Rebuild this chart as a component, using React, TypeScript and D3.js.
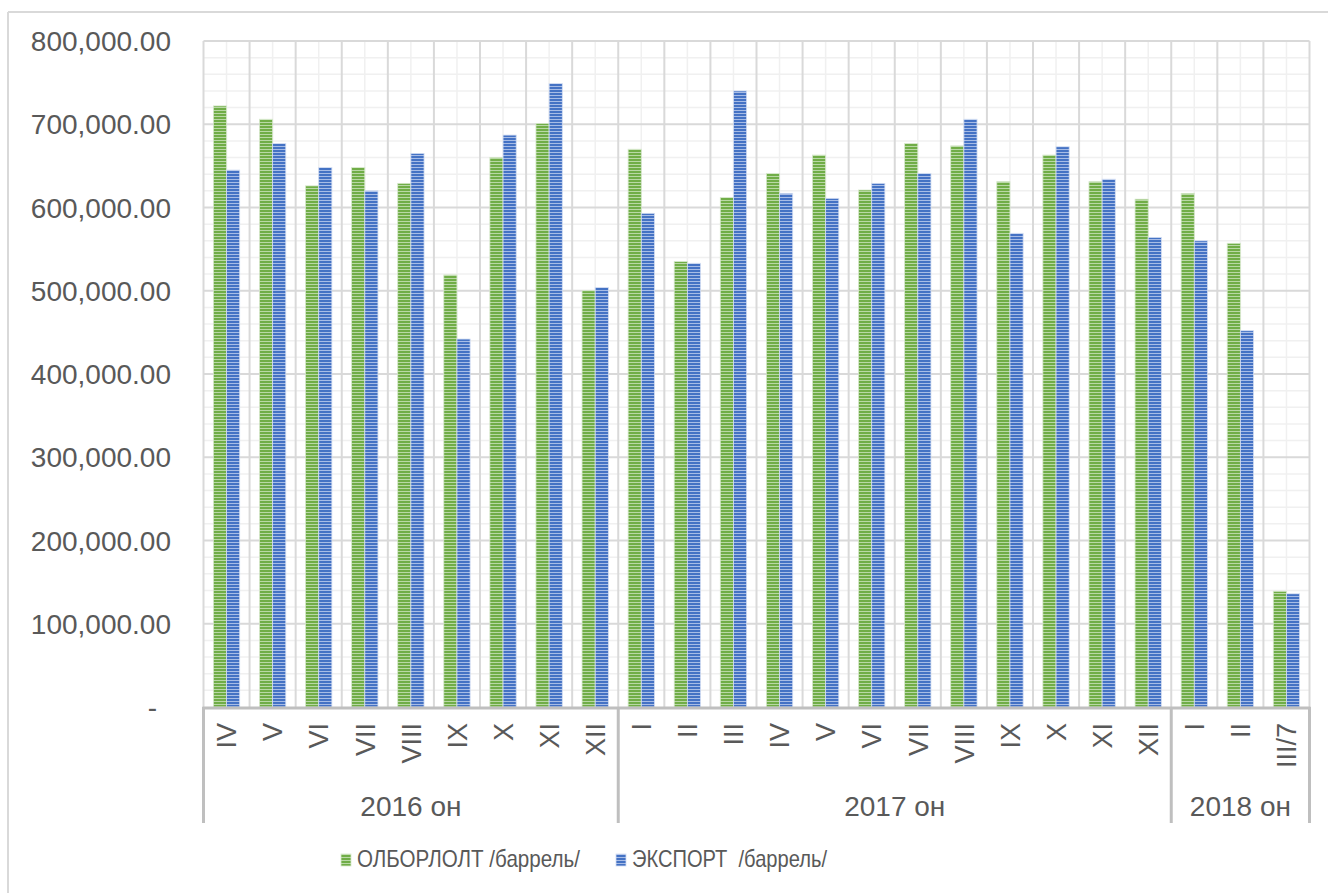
import React from "react";
import * as d3 from "d3";

const months = [
  "IV", "V", "VI", "VII", "VIII", "IX", "X", "XI", "XII",
  "I", "II", "III", "IV", "V", "VI", "VII", "VIII", "IX", "X", "XI", "XII",
  "I", "II", "III/7",
];
const yearLabels = ["2016 он", "2017 он", "2018 он"];
const yearCounts = [9, 12, 3];
const seriesNames = ["ОЛБОРЛОЛТ /баррель/", "ЭКСПОРТ  /баррель/"];
const olborlolt = [
  722000, 706000, 626000, 648000, 629000, 519000, 660000, 701000, 500000,
  670000, 535000, 612000, 641000, 663000, 621000, 677000, 674000, 631000, 663000, 631000, 610000,
  617000, 557000, 139000,
];
const exportVals = [
  645000, 677000, 648000, 620000, 665000, 442000, 687000, 749000, 504000,
  593000, 533000, 740000, 617000, 611000, 629000, 641000, 706000, 569000, 673000, 634000, 564000,
  560000, 452000, 136000,
];
const yTicks = [0, 100000, 200000, 300000, 400000, 500000, 600000, 700000, 800000];

const FONT = "'Liberation Sans', Arial, sans-serif";
const TXT = "#595959";

export default function App() {
  const left = 203.5, right = 1309.5, top = 41, bottom = 707;
  const idx = months.map((_, i) => i);
  const x = d3.scaleBand<number>().domain(idx).range([left, right]).paddingInner(0).paddingOuter(0);
  const inner = d3.scaleBand<string>().domain(["g", "b"]).range([0, x.bandwidth()]).paddingInner(0).paddingOuter(0.75);
  const y = d3.scaleLinear().domain([0, 800000]).range([bottom, top]);
  const minorTicks = d3.range(0, 800001, 20000).filter((v) => v % 100000 !== 0);
  const fmt = d3.format(",.2f");

  const bounds: number[] = [0];
  yearCounts.forEach((c) => bounds.push(bounds[bounds.length - 1] + c));
  const boundX = (b: number) => (b < months.length ? x(b)! : right);

  const series = [
    { key: "g", vals: olborlolt, fill: "url(#pg)", stroke: "#d6e8cb" },
    { key: "b", vals: exportVals, fill: "url(#pb)", stroke: "#d2ddf2" },
  ];

  return (
    <svg
      width={1328}
      height={893}
      style={{ position: "fixed", left: 0, top: 0, background: "#fff" }}
      fontFamily={FONT}
    >
      <defs>
        <pattern id="pg" patternUnits="userSpaceOnUse" width={6} height={3}>
          <rect x={0} y={0} width={6} height={3} fill="#70ad47" />
          <rect x={0} y={2} width={6} height={1} fill="#b9d8a5" />
        </pattern>
        <pattern id="pb" patternUnits="userSpaceOnUse" width={6} height={3}>
          <rect x={0} y={0} width={6} height={3} fill="#4472c4" />
          <rect x={0} y={2} width={6} height={1} fill="#a7bce6" />
        </pattern>
      </defs>
      <rect x={0} y={0} width={1328} height={893} fill="#fff" />
      <line x1={8} y1={12} x2={1328} y2={12} stroke="#d9d9d9" strokeWidth={2} />
      <line x1={8} y1={12} x2={8} y2={893} stroke="#d9d9d9" strokeWidth={2} />

      {minorTicks.map((v) => (
        <line key={"mh" + v} x1={left} x2={right} y1={y(v)} y2={y(v)} stroke="#f0f0f0" strokeWidth={1.5} />
      ))}
      {idx.map((i) => (
        <line key={"mv" + i} x1={x(i)! + x.bandwidth() / 2} x2={x(i)! + x.bandwidth() / 2} y1={top} y2={bottom} stroke="#f0f0f0" strokeWidth={1.5} />
      ))}
      {yTicks.filter((v) => v > 0).map((v) => (
        <line key={"Mh" + v} x1={left} x2={right} y1={y(v)} y2={y(v)} stroke="#d9d9d9" strokeWidth={2} />
      ))}
      {d3.range(0, months.length + 1).map((i) => (
        <line key={"Mv" + i} x1={boundX(i)} x2={boundX(i)} y1={top} y2={bottom} stroke="#d9d9d9" strokeWidth={2} />
      ))}

      {series.map((s) =>
        s.vals.map((v, i) => (
          <rect
            key={s.key + i}
            x={x(i)! + inner(s.key)!}
            y={y(v)}
            width={inner.bandwidth()}
            height={bottom - y(v)}
            fill={s.fill}
            stroke={s.stroke}
            strokeWidth={0.8}
          />
        ))
      )}

      {yTicks.map((v) => (
        <text
          key={"yt" + v}
          x={v === 0 ? 157 : 171}
          y={y(v)}
          dy="0.36em"
          textAnchor="end"
          fontSize={28}
          fill={TXT}
        >
          {v === 0 ? "-" : fmt(v)}
        </text>
      ))}

      <line x1={left - 1} x2={right + 1} y1={bottom + 1} y2={bottom + 1} stroke="#bfbfbf" strokeWidth={3} />
      {bounds.map((b) => (
        <line key={"gb" + b} x1={boundX(b)} x2={boundX(b)} y1={bottom} y2={823} stroke="#bfbfbf" strokeWidth={3} />
      ))}

      {months.map((m, i) => (
        <text
          key={"m" + i}
          transform={`translate(${x(i)! + x.bandwidth() / 2},${723}) rotate(-90)`}
          dy="0.36em"
          textAnchor="end"
          fontSize={27}
          fill={TXT}
        >
          {m}
        </text>
      ))}

      {yearLabels.map((yl, k) => (
        <text
          key={"y" + k}
          x={(boundX(bounds[k]) + boundX(bounds[k + 1])) / 2}
          y={816}
          textAnchor="middle"
          fontSize={28}
          fill={TXT}
        >
          {yl}
        </text>
      ))}

      <rect x={341} y={854} width={10} height={12} fill="url(#pg)" stroke="#d6e8cb" strokeWidth={0.8} />
      <text x={357} y={867} fontSize={24} fill={TXT} textLength={223} lengthAdjust="spacingAndGlyphs">
        {seriesNames[0]}
      </text>
      <rect x={616} y={854} width={10} height={12} fill="url(#pb)" stroke="#d2ddf2" strokeWidth={0.8} />
      <text x={632} y={867} fontSize={24} fill={TXT} textLength={195} lengthAdjust="spacingAndGlyphs" xmlSpace="preserve">
        {seriesNames[1]}
      </text>
    </svg>
  );
}
